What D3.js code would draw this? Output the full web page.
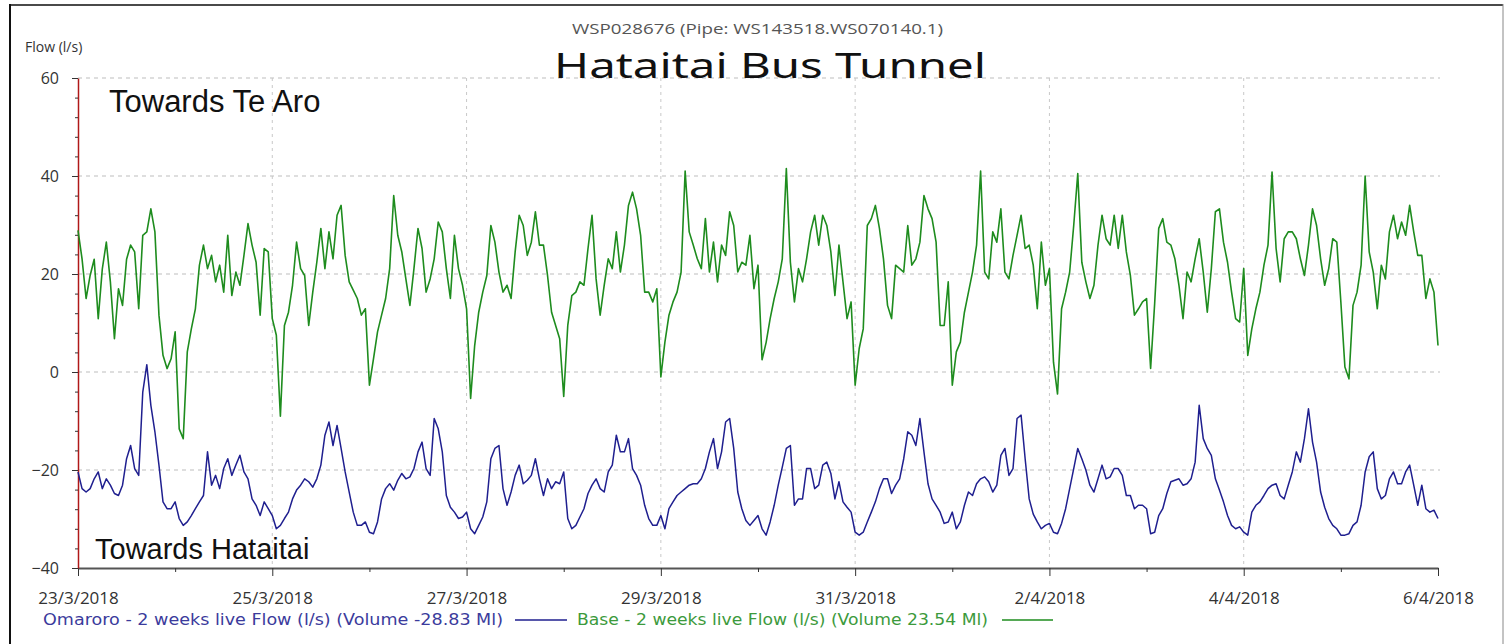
<!DOCTYPE html>
<html>
<head>
<meta charset="utf-8">
<script src="https://cdn.jsdelivr.net/npm/d3@7"></script>
<style>
  body { margin: 0; background: #fff; }
  svg { display: block; }
  text { font-family: "Open Sans", "Noto Sans", sans-serif; }
</style>
</head>
<body>
<svg id="chart"></svg>
<script>
// hourly readings from 23/3/2018 00:00 to 6/4/2018 00:00
const startDate = "2018-03-23"
const endDate = "2018-04-06"

const baseFlow = [
  28.9, 23.1, 15, 19.7, 23, 10.9, 21, 26.5, 18.4, 6.8,
  17, 13.6, 23, 25.9, 24.5, 12.9, 27.9, 28.6, 33.3, 28.6,
  11.6, 3.4, 0.7, 2.7, 8.2, -11.6, -13.6, 4.1, 8.8, 12.9,
  21.8, 25.9, 21.1, 23.8, 18.4, 21.8, 16.3, 27.9, 15.6, 20.4,
  17.7, 23.8, 30.3, 25.9, 22.4, 11.6, 25.2, 24.5, 10.9, 7.5,
  -9, 9.5, 12.2, 17.7, 26.5, 21.1, 19.7, 9.5, 16.3, 22.4,
  29.3, 21.1, 28.6, 23.1, 32, 34, 23.8, 18.4,
  16.7, 15, 11.6, 12.9, -2.7, 2.7, 8.2, 11.6, 15, 21.1,
  36, 27.9, 24.5, 19, 13.6, 21.1, 29.3, 25.2, 16.3, 19,
  23.1, 30.6, 28.6, 21.1, 15, 27.9, 21.1, 17.7, 12.9, -5.4,
  5.4, 12.2, 16.3, 19.7, 29.9, 26.5, 20.4, 16.3, 17.7, 15,
  24.5, 32, 29.9, 23.8, 26.5, 32.7, 25.9, 25.9, 19.7, 12.2,
  9.5, 6.8, -5, 9.5, 15.6, 16.3, 18.4, 17.7, 25.2, 32,
  19, 11.6, 17.7, 23.1, 21.1, 28.6,
  20.4, 25.9, 34, 36.7, 33.3, 27.9, 16.3, 16.3, 14.3, 17,
  -1, 6.1, 11.6, 14.3, 16.3, 20.4, 41, 28.6, 25.9, 23.1,
  21.1, 31.3, 20.4, 26.5, 18.4, 25.9, 23.8, 32.7, 29.9, 20.4,
  22.4, 21.8, 27.9, 17, 21.8, 2.5, 6, 10.9, 15, 18.4,
  23.1, 41.5, 22.4, 14.3, 21.1, 18.4, 23.1, 28.6, 32, 25.9,
  32, 29.9, 24.5, 15.6, 25.9, 18.4, 10.9, 14.3, -2.7, 4.8,
  8.8, 29.9, 31.3, 34, 29.3, 23.1, 13.6,
  10.9, 21.8, 21.1, 20.4, 29.9, 21.8, 23.1, 26.5, 36, 33.3,
  31.3, 26.5, 9.5, 9.5, 18.4, -2.7, 4.1, 6.1, 12.2, 16.3,
  20.4, 25.9, 41, 20.4, 19, 28.6, 26.5, 33.3, 20.4, 19,
  23.8, 27.9, 32, 25.2, 25.9, 21.8, 12.9, 26.5, 17.7, 21.1,
  2, -4.5, 12.9, 16.3, 20.4, 29.9, 40.5, 22.4, 18.4, 15,
  17.7, 25.9, 32, 27.2, 25.9, 32, 25.2, 32, 24.5, 19.7,
  11.6, 12.9, 14.3, 15, 0.7, 14,
  29.3, 31.3, 26.5, 25.9, 23.1, 17.7, 10.9, 20.4, 18.4, 23.1,
  27.2, 20.4, 12.2, 21.1, 32.7, 33.3, 26.5, 22.4, 16.3, 10.9,
  10.2, 21.1, 3.4, 8.8, 12.9, 16.3, 21.8, 25.9, 40.8, 25.2,
  18.4, 27.2, 28.6, 28.6, 27.2, 23.1, 19.7, 25.9, 33.3, 29.9,
  23.1, 17.7, 21.1, 27.2, 26.5, 14.3, 1, -1.4, 13.6, 16.3,
  21.8, 40, 24.5, 20.4, 12.9, 21.8, 19, 28.6, 32, 27.2,
  30.6, 27.9, 34, 28.6, 23.8, 23.8, 15, 19, 16.3, 5.4
]

const omaroroFlow = [
  -20.4, -23.8, -24.5, -23.8, -21.8, -20.4, -23.8, -21.8, -23.1, -24.8,
  -25.2, -23.1, -17.7, -15, -19.7, -21.1, -4.1, 1.5, -6.8, -12.2,
  -19, -26.5, -27.9, -27.9, -26.5, -29.9, -31.3, -30.6, -29.3, -27.9,
  -26.5, -25.2, -16.3, -23.1, -21.1, -23.8, -19.7, -17.7, -21.1, -19,
  -17, -20.4, -21.8, -25.9, -27.2, -29.3, -26.5, -27.9, -29.3, -32,
  -31.3, -29.9, -28.6, -25.9, -24.1, -23.1, -21.8, -22.4, -23.5, -21.8,
  -19, -12.9, -10.2, -15, -10.9, -15.6, -20.4, -24.5,
  -28.6, -31.3, -31.3, -30.6, -32.7, -33, -30.6, -25.9, -23.8, -22.8,
  -24.1, -22.1, -20.7, -21.8, -21.4, -19.7, -16.3, -14.3, -19.7, -21.1,
  -9.5, -11.6, -16.3, -25.2, -27.6, -28.6, -29.9, -29.6, -28.6, -32,
  -33, -31.3, -29.6, -26.5, -17.7, -15.6, -15, -23.8, -27.2, -24.5,
  -21.1, -19, -22.8, -22.1, -21.1, -17.7, -21.8, -25.2, -21.8, -23.8,
  -22.4, -22.8, -20.4, -29.9, -32, -31.3, -29.6, -27.9, -24.8, -23.1,
  -21.8, -23.8, -24.5, -20.4, -19, -12.9,
  -16.3, -16.3, -13.6, -19.7, -21.1, -23.1, -27.2, -29.9, -31.3, -31.3,
  -29.3, -32, -27.9, -26.5, -25.2, -24.5, -23.8, -23.1, -22.8, -22.8,
  -21.8, -19.7, -16.3, -13.6, -19.7, -16.3, -10.2, -9.5, -15.6, -24.5,
  -27.9, -30.3, -31.3, -30.3, -29.3, -32, -33.3, -30.6, -27.2, -23.1,
  -19.4, -15.6, -15, -27.2, -25.9, -25.9, -19.7, -19.7, -23.8, -23.1,
  -19, -18.4, -20.7, -25.9, -22.4, -26.5, -27.6, -28.6, -32.7, -33.3,
  -32.7, -30.6, -28.6, -26.5, -23.8, -21.8, -21.8,
  -24.8, -23.1, -21.8, -17.7, -12.2, -12.9, -15, -9.5, -16.3, -22.8,
  -25.9, -27.2, -28.6, -30.9, -30.6, -28.6, -32, -30.6, -27.2, -24.5,
  -25.2, -22.8, -21.8, -21.4, -22.4, -24.5, -23.1, -17, -15.6, -21.1,
  -19.7, -9.5, -8.8, -17.7, -25.9, -29, -30.6, -32, -31.3, -30.9,
  -32.7, -33, -30.9, -27.9, -23.8, -19.7, -15.6, -17.7, -20, -23.1,
  -24.5, -21.8, -19, -21.8, -21.4, -19.7, -19.7, -21.1, -25.2, -25.2,
  -27.9, -27.2, -27.2, -27.9, -33, -32.7,
  -29.3, -27.9, -24.8, -22.4, -22.1, -21.8, -23.1, -22.8, -21.8, -18.4,
  -6.8, -13.6, -15.6, -17, -21.8, -24.1, -26.5, -29.3, -31.3, -32,
  -31.6, -32.7, -33.3, -28.6, -27.2, -26.5, -25.2, -23.8, -23.1, -22.8,
  -25.2, -25.9, -23.1, -20.4, -16.3, -18.4, -13.6, -7.5, -14.3, -18.4,
  -24.5, -27.6, -29.9, -31.3, -32, -33.3, -33.3, -33, -31.3, -30.6,
  -27.2, -20.4, -17.3, -16.3, -23.8, -25.9, -25.2, -21.8, -20.4, -22.8,
  -22.8, -20.4, -19, -23.1, -27.2, -23.1, -27.9, -28.6, -28.2, -29.9
]

const yTicks = [-40, -20, 0, 20, 40, 60]
const yGrid = [-20, 0, 20, 40, 60]
const xLabelDates = ["2018-03-23", "2018-03-25", "2018-03-27", "2018-03-29", "2018-03-31", "2018-04-02", "2018-04-04", "2018-04-06"]
const xMinorDates = ["2018-03-24", "2018-03-26", "2018-03-28", "2018-03-30", "2018-04-01", "2018-04-03", "2018-04-05"]

const subTitle = "WSP028676 (Pipe: WS143518.WS070140.1)"
const title = "Hataitai Bus Tunnel"
const omaroroLabel = "Omaroro - 2 weeks live Flow (l/s) (Volume -28.83 Ml)"
const baseLabel = "Base - 2 weeks live Flow (l/s) (Volume 23.54 Ml)"

const w = 1507
const h = 644
const plotLeft = 78
const plotRight = 1438
const plotTop = 78
const plotBottom = 568

const blue = "#1f1f8f"
const green = "#1e8c1e"

const svg = d3.select("#chart")
    .attr("width", w)
    .attr("height", h)

const parse = d3.utcParse("%Y-%m-%d")
const start = parse(startDate)

//Scales
const xScale = d3.scaleUtc()
    .domain([start, parse(endDate)])
    .range([plotLeft, plotRight])

const yScale = d3.scaleLinear()
    .domain([-40, 60])
    .range([plotBottom, plotTop])

const hourTime = i => new Date(start.getTime() + i * 3600 * 1000)

//Frame of the picture
svg.append("line").attr("x1", 10).attr("x2", 1503).attr("y1", 5).attr("y2", 5)
    .attr("stroke", "#4a4a4a").attr("stroke-width", 2)
svg.append("line").attr("x1", 10).attr("x2", 10).attr("y1", 4).attr("y2", h)
    .attr("stroke", "#111").attr("stroke-width", 2)
svg.append("line").attr("x1", 1503).attr("x2", 1503).attr("y1", 4).attr("y2", h)
    .attr("stroke", "#888").attr("stroke-width", 1)

//Grid
svg.append("g")
    .selectAll("line")
    .data(yGrid)
    .enter()
    .append("line")
    .attr("x1", plotLeft)
    .attr("x2", plotRight + 2)
    .attr("y1", d => yScale(d))
    .attr("y2", d => yScale(d))
    .attr("stroke", "#bdbdbd")
    .attr("stroke-dasharray", "4,4")

svg.append("g")
    .selectAll("line")
    .data(xLabelDates.slice(1, -1))
    .enter()
    .append("line")
    .attr("x1", d => xScale(parse(d)))
    .attr("x2", d => xScale(parse(d)))
    .attr("y1", plotTop)
    .attr("y2", plotBottom)
    .attr("stroke", "#c8c8c8")
    .attr("stroke-dasharray", "3,4")

//Axes
const fmt = d3.utcFormat("%-d/%-m/%Y")

const xAxis = svg.append("g")
    .attr("transform", `translate(0, ${plotBottom})`)
    .call(d3.axisBottom(xScale)
        .tickValues(xLabelDates.map(parse))
        .tickSize(8)
        .tickSizeOuter(0)
        .tickFormat(fmt))
xAxis.select(".domain").attr("stroke", "#555").attr("stroke-width", 2)
xAxis.selectAll(".tick line").attr("stroke", "#333")
xAxis.selectAll(".tick text")
    .attr("dy", "1.45em")
    .attr("font-size", 17)
    .attr("fill", "#333")
    .style("font-family", "'Open Sans', sans-serif")

svg.append("g")
    .attr("transform", `translate(0, ${plotBottom})`)
    .call(d3.axisBottom(xScale)
        .tickValues(xMinorDates.map(parse))
        .tickSize(4)
        .tickFormat(""))
    .call(g => g.select(".domain").remove())
    .selectAll(".tick line").attr("stroke", "#333")

const yAxis = svg.append("g")
    .attr("transform", `translate(${plotLeft}, 0)`)
    .call(d3.axisLeft(yScale)
        .tickValues(yTicks)
        .tickSize(6)
        .tickSizeOuter(0)
        .tickFormat(d3.format("d")))
yAxis.select(".domain").attr("stroke", "#b01818").attr("stroke-width", 1.5)
yAxis.selectAll(".tick line").attr("stroke", "#333")
yAxis.selectAll(".tick text")
    .attr("x", -19)
    .attr("font-size", 16)
    .attr("fill", "#333")
    .style("font-family", "'Open Sans', sans-serif")

svg.append("g")
    .attr("transform", `translate(${plotLeft}, 0)`)
    .call(d3.axisLeft(yScale)
        .tickValues(d3.range(-36, 60, 4).filter(v => v % 20 !== 0))
        .tickSize(3)
        .tickFormat(""))
    .call(g => g.select(".domain").remove())
    .selectAll(".tick line").attr("stroke", "#333")

//Series
const line = d3.line()
    .x((d, i) => xScale(hourTime(i)))
    .y(d => yScale(d))

svg.append("path")
    .datum(baseFlow)
    .attr("d", line)
    .attr("fill", "none")
    .attr("stroke", green)
    .attr("stroke-width", 1.6)
    .attr("stroke-linejoin", "round")

svg.append("path")
    .datum(omaroroFlow)
    .attr("d", line)
    .attr("fill", "none")
    .attr("stroke", blue)
    .attr("stroke-width", 1.5)
    .attr("stroke-linejoin", "round")

//Texts
svg.append("text")
    .text("Flow (l/s)")
    .attr("x", 25)
    .attr("y", 52)
    .attr("font-size", 14)
    .attr("fill", "#333")

svg.append("text")
    .text(subTitle)
    .attr("x", 572)
    .attr("y", 34)
    .attr("font-size", 15)
    .attr("textLength", 371)
    .attr("lengthAdjust", "spacingAndGlyphs")
    .attr("fill", "#555")

svg.append("text")
    .text(title)
    .attr("x", 554)
    .attr("y", 78)
    .attr("font-size", 35)
    .attr("textLength", 432)
    .attr("lengthAdjust", "spacingAndGlyphs")
    .attr("fill", "#111")
    .style("font-family", "'Noto Sans', sans-serif")

svg.append("text")
    .text("Towards Te Aro")
    .attr("x", 109)
    .attr("y", 112)
    .attr("font-size", 31)
    .attr("fill", "#111")
    .style("font-family", "'Liberation Sans', Arial, sans-serif")

svg.append("text")
    .text("Towards Hataitai")
    .attr("x", 95)
    .attr("y", 559)
    .attr("font-size", 29)
    .attr("fill", "#111")
    .style("font-family", "'Liberation Sans', Arial, sans-serif")

//Legend
const legendY = 620
svg.append("text")
    .text(omaroroLabel)
    .attr("x", 43)
    .attr("y", legendY + 5)
    .attr("font-size", 16)
    .attr("textLength", 460)
    .attr("lengthAdjust", "spacingAndGlyphs")
    .attr("fill", "#3b3b9c")
    .style("font-family", "'DejaVu Sans', sans-serif")

svg.append("line")
    .attr("x1", 515).attr("x2", 567)
    .attr("y1", legendY).attr("y2", legendY)
    .attr("stroke", blue).attr("stroke-width", 1.5)

svg.append("text")
    .text(baseLabel)
    .attr("x", 577)
    .attr("y", legendY + 5)
    .attr("font-size", 16)
    .attr("textLength", 411)
    .attr("lengthAdjust", "spacingAndGlyphs")
    .attr("fill", "#3c9a3c")
    .style("font-family", "'DejaVu Sans', sans-serif")

svg.append("line")
    .attr("x1", 1002).attr("x2", 1053)
    .attr("y1", legendY).attr("y2", legendY)
    .attr("stroke", green).attr("stroke-width", 1.5)
</script>
</body>
</html>
